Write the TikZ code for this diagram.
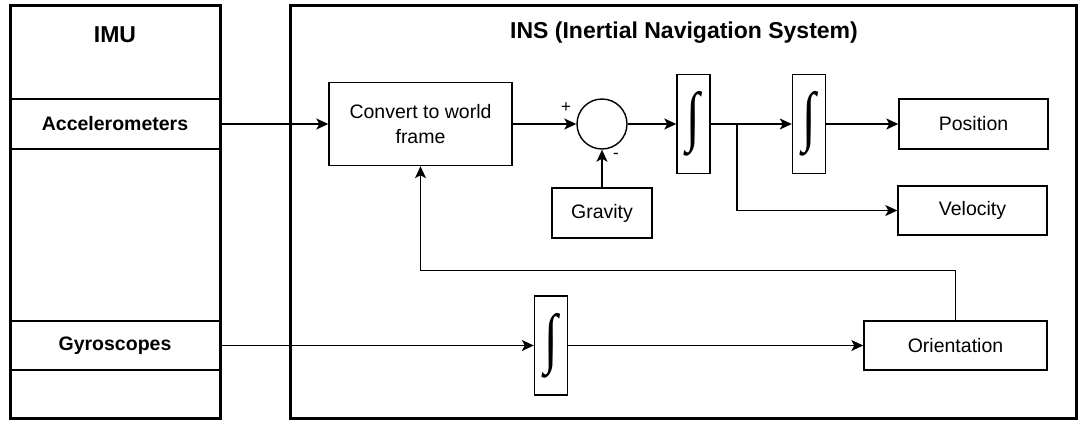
\documentclass[tikz,border=0pt]{standalone}
\usepackage{fontspec}
\setmainfont{Liberation Sans}
\newfontfamily\intfont{Liberation Serif}
\usetikzlibrary{arrows.meta,positioning}
\newcommand{\integ}{\scalebox{0.75}[1]{\fontsize{66}{66}\intfont ∫}}
\tikzset{
  box/.style={draw, rectangle, inner sep=0pt, align=center, font=\fontsize{19.5}{25.5}\selectfont},
  intbox/.style={box, minimum width=33pt, minimum height=99pt},
  frame/.style={draw, line width=3pt, inner sep=0pt},
  arr/.style={-{Stealth[length=12pt,width=11pt,inset=3pt]}},
  sign/.style={inner sep=0pt, font=\fontsize{17}{17}\selectfont}
}
\begin{document}
\begin{tikzpicture}[x=1pt,y=-1pt,line width=1.4pt]
\useasboundingbox (0,0) rectangle (1078,421);
\node[box, minimum width=210pt, minimum height=50pt, font=\bfseries\fontsize{19.5}{24}\selectfont] (acc) at (115,124) {Accelerometers};
\node[box, minimum width=210pt, minimum height=49pt, font=\bfseries\fontsize{19.5}{24}\selectfont] (gyro) at (115,345.5) {Gyroscopes};
\node[frame, minimum width=210pt, minimum height=413pt] (imu) at (115,211.5) {};
\node[font=\bfseries\fontsize{23}{26}\selectfont] (imutitle) at (115,35) {IMU};
\node[frame, minimum width=786pt, minimum height=413pt] (ins) at (683,211.5) {};
\node[font=\bfseries\fontsize{23}{26}\selectfont] (institle) at (684,33) {INS (Inertial Navigation System)};

\node[box, minimum width=183pt, minimum height=83pt] (conv) at (420.5,124) {Convert to world\\frame};
\node[draw, circle, minimum size=50pt, inner sep=0pt] (sum) at (602,124) {};
\node[box, minimum width=100pt, minimum height=50pt] (grav) at (602,213) {Gravity};
\node[intbox] (int1) at (693.5,124) {\integ};
\node[intbox] (int2) at (809,124) {\integ};
\node[box, minimum width=149pt, minimum height=50pt] (pos) at (973.5,124) {Position};
\node[box, minimum width=149pt, minimum height=49pt] (vel) at (972.5,210.5) {Velocity};
\node[intbox] (int3) at (551,345.5) {\integ};
\node[box, minimum width=183pt, minimum height=49pt] (ori) at (955.5,345.5) {Orientation};
\node[sign] (plus) at (566,108) {+};
\node[sign] (minus) at (616,156) {-};
\coordinate (br) at (737,124);

\draw[arr] (acc.east) -- (conv.west);
\draw[arr] (conv.east) -- (sum.west);
\draw[arr] (grav.north) -- (sum.south);
\draw[arr] (sum.east) -- (int1.west);
\draw (int1.east) -- (br);
\draw[arr] (br) -- (int2.west);
\draw[arr] (br) |- (vel.west);
\draw[arr] (int2.east) -- (pos.west);
\draw[arr] (gyro.east) -- (int3.west);
\draw[arr] (int3.east) -- (ori.west);
\draw[arr] (ori.north) -- ++(0,-50) -| (conv.south);
\end{tikzpicture}
\end{document}
